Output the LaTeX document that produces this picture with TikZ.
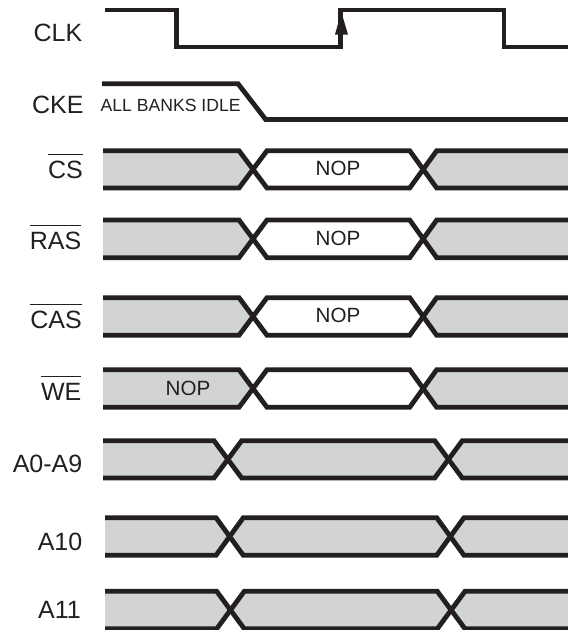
\documentclass[tikz,border=0pt]{standalone}
\usepackage{fontspec}
\setmainfont{Liberation Sans}
\definecolor{ink}{HTML}{231F20}
\definecolor{shade}{HTML}{D1D3D4}
\newcommand\ovl[1]{\leavevmode\vbox{\hrule height 0.9pt \kern 5.6pt\hbox{#1}}}
% \sigrow{top}{bottom}{x0}{xa1}{xb1}{xa2}{xb2}{fill1}{fill2}{fill3}
\newcommand\sigrow[9]{%
  \def\rowt{#1}\def\rowb{#2}\def\rowz{#3}\def\rowaa{#4}\def\rowba{#5}\def\rowab{#6}\def\rowbb{#7}%
  \def\fa{#8}\def\fb{#9}\sigrowcont}
\newcommand\sigrowcont[1]{%
  \pgfmathsetmacro\rowm{(\rowt+\rowb)/2}%
  \pgfmathsetmacro\xma{(\rowaa+\rowba)/2}%
  \pgfmathsetmacro\xmb{(\rowab+\rowbb)/2}%
  \fill[\fa] (\rowz,\rowt) -- (\rowaa,\rowt) -- (\xma,\rowm) -- (\rowaa,\rowb) -- (\rowz,\rowb) -- cycle;
  \fill[\fb] (\xma,\rowm) -- (\rowba,\rowt) -- (\rowab,\rowt) -- (\xmb,\rowm) -- (\rowab,\rowb) -- (\rowba,\rowb) -- cycle;
  \fill[#1] (\xmb,\rowm) -- (\rowbb,\rowt) -- (568,\rowt) -- (568,\rowb) -- (\rowbb,\rowb) -- cycle;
  \draw[wave] (\rowz,\rowt) -- (\rowaa,\rowt) -- (\rowba,\rowb) -- (\rowab,\rowb) -- (\rowbb,\rowt) -- (568,\rowt);
  \draw[wave] (\rowz,\rowb) -- (\rowaa,\rowb) -- (\rowba,\rowt) -- (\rowab,\rowt) -- (\rowbb,\rowb) -- (568,\rowb);
}
\tikzset{
  wave/.style={draw=ink,line width=4.8pt,miter limit=10},
  siglabel/.style={anchor=base east,inner sep=0pt,text=ink,font=\fontsize{25}{28}\selectfont},
  noptext/.style={anchor=base,inner sep=0pt,text=ink,font=\fontsize{20.6}{23}\selectfont},
  idletext/.style={anchor=base west,inner sep=0pt,text=ink,font=\fontsize{17.6}{20}\selectfont},
  shaded/.style={fill=shade},
  blank/.style={fill=white}
}
\begin{document}
\begin{tikzpicture}[x=1pt,y=-1pt]
\useasboundingbox (0,0) rectangle (568,630);
% CLK
\draw[wave] (105,10) -- (176.5,10) -- (176.5,47) -- (340.7,47) -- (340.7,10) -- (504,10) -- (504,47) -- (568,47);
\fill[ink] (341.3,12) -- (348,34.5) -- (335,34.5) -- cycle;
% CKE
\draw[wave] (102,83.7) -- (238,83.7) -- (265.7,119.5) -- (568,119.5);
% Buses
\sigrow{150.7}{188}{103}{239}{267}{409.7}{436.7}{shaded}{blank}{shaded}
\sigrow{220}{257.7}{103}{239}{267}{409.7}{436.7}{shaded}{blank}{shaded}
\sigrow{297.7}{335.3}{103}{239}{267}{409.7}{436.7}{shaded}{blank}{shaded}
\sigrow{369.7}{407.3}{103}{239}{267}{409.7}{436.7}{shaded}{blank}{shaded}
\sigrow{440.7}{478}{103}{214}{241.7}{434.7}{462.3}{shaded}{shaded}{shaded}
\sigrow{517.7}{555.3}{105}{216}{243.3}{436.7}{464}{shaded}{shaded}{shaded}
\sigrow{591.3}{628.8}{105}{216.7}{244.3}{437.3}{465}{shaded}{shaded}{shaded}
% Labels
\node[siglabel] (lclk) at (82.5,41.7) {CLK};
\node[siglabel] (lcke) at (83.7,113) {CKE};
\node[siglabel] (lcs) at (83,178) {\ovl{CS}};
\node[siglabel] (lras) at (81.5,249) {\ovl{RAS}};
\node[siglabel] (lcas) at (82,328) {\ovl{CAS}};
\node[siglabel] (lwe) at (81.5,400) {\ovl{WE}};
\node[siglabel] (la0) at (82.5,472) {A0-A9};
\node[siglabel] (la10) at (82.5,550) {A10};
\node[siglabel] (la11) at (81,618) {A11};
\node[idletext] (idle) at (100.5,111) {ALL BANKS IDLE};
\node[noptext] (ncs) at (338,175.7) {NOP};
\node[noptext] (nras) at (338,245.7) {NOP};
\node[noptext] (ncas) at (338,322.7) {NOP};
\node[noptext] (nwe) at (188,395) {NOP};
\end{tikzpicture}
\end{document}
